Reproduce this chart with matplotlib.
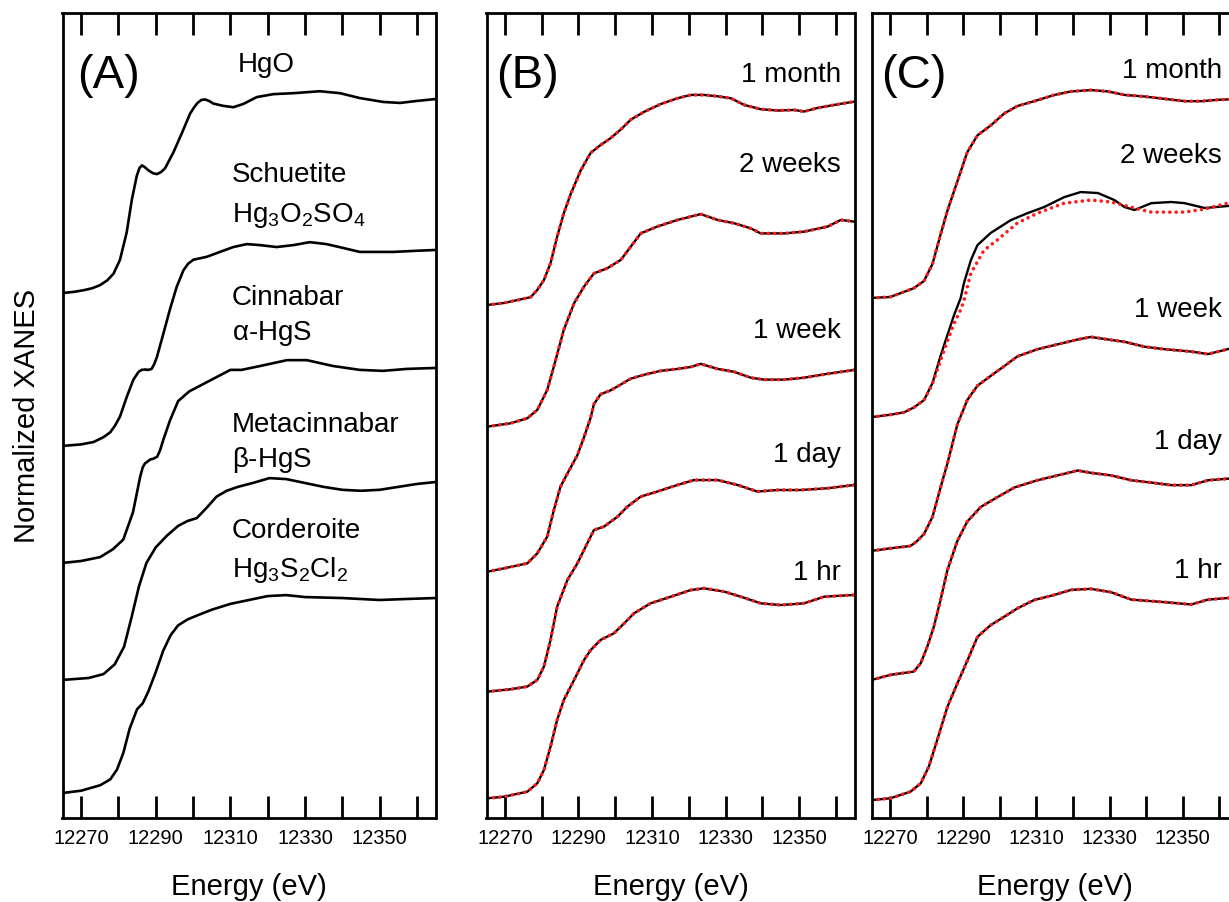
import matplotlib
matplotlib.use("Agg")
import matplotlib.pyplot as plt

plt.rcParams['font.family'] = ['Liberation Sans', 'DejaVu Sans']
plt.rcParams['mathtext.default'] = 'regular'

# ---- (A) reference spectra: energy (eV), normalized mu ----
hgo_e = [12265.0, 12268.0, 12270.8, 12273.0, 12275.0, 12277.0, 12278.7, 12280.4, 12282.2,
         12283.6, 12284.9, 12285.6, 12286.3, 12287.1, 12288.0, 12289.2, 12290.3, 12291.4,
         12292.5, 12293.6, 12294.7, 12297.0, 12299.2, 12300.2, 12301.2, 12302.2, 12303.2,
         12304.3, 12305.4, 12308.1, 12310.8, 12313.5, 12317.1, 12321.5, 12326.9, 12334.0,
         12339.4, 12344.7, 12351.0, 12355.5, 12359.9, 12365.0]
hgo_mu = [0.0, 0.006, 0.015, 0.025, 0.04, 0.065, 0.10, 0.17, 0.31, 0.48, 0.60, 0.64, 0.655,
          0.645, 0.63, 0.615, 0.61, 0.62, 0.64, 0.68, 0.72, 0.82, 0.92, 0.95, 0.975, 0.99,
          0.993, 0.985, 0.972, 0.96, 0.953, 0.97, 1.005, 1.02, 1.025, 1.035, 1.025, 1.0,
          0.98, 0.975, 0.985, 0.995]

schuetite_e = [12265.0, 12270.0, 12273.3, 12276.0, 12277.8, 12279.1, 12280.4, 12282.2,
               12284.0, 12285.4, 12286.2, 12287.1, 12288.0, 12288.9, 12289.6, 12290.3,
               12292.1, 12293.8, 12295.6, 12297.4, 12298.7, 12300.1, 12303.7, 12307.2,
               12310.8, 12314.4, 12317.9, 12322.4, 12326.9, 12331.3, 12335.8, 12340.3,
               12344.7, 12349.2, 12353.7, 12359.0, 12365.0]
schuetite_mu = [0.0, 0.008, 0.02, 0.045, 0.07, 0.105, 0.15, 0.25, 0.34, 0.38, 0.39, 0.392,
                0.39, 0.395, 0.42, 0.455, 0.58, 0.70, 0.815, 0.90, 0.935, 0.955, 0.97, 0.995,
                1.02, 1.035, 1.03, 1.02, 1.03, 1.045, 1.035, 1.015, 0.995, 0.995, 0.995, 1.0,
                1.005]

cinnabar_e = [12265.0, 12270.0, 12275.1, 12278.5, 12281.3, 12283.9, 12285.8, 12286.5,
              12287.1, 12288.5, 12289.4, 12290.4, 12291.2, 12292.0, 12293.8, 12296.0,
              12299.0, 12302.0, 12305.0, 12308.0, 12310.0, 12313.0, 12318.0, 12325.2,
              12330.5, 12337.5, 12344.7, 12350.9, 12357.3, 12365.0]
cinnabar_mu = [0.0, 0.01, 0.03, 0.07, 0.12, 0.26, 0.44, 0.49, 0.51, 0.53, 0.535, 0.545,
               0.58, 0.63, 0.73, 0.83, 0.88, 0.91, 0.94, 0.97, 0.99, 0.99, 1.01, 1.04, 1.04,
               1.01, 0.99, 0.985, 0.995, 1.0]

metacinnabar_e = [12265.0, 12272.0, 12276.0, 12279.0, 12281.5, 12283.5, 12285.5, 12287.5,
                  12290.0, 12293.0, 12296.0, 12298.5, 12301.0, 12303.5, 12306.3, 12309.0,
                  12312.0, 12316.0, 12320.5, 12325.0, 12330.0, 12335.0, 12340.0, 12345.0,
                  12350.0, 12355.0, 12360.0, 12365.0]
metacinnabar_mu = [0.0, 0.01, 0.03, 0.08, 0.17, 0.32, 0.48, 0.60, 0.68, 0.74, 0.79, 0.815,
                   0.83, 0.88, 0.94, 0.97, 0.99, 1.01, 1.035, 1.03, 1.01, 0.99, 0.975, 0.97,
                   0.975, 0.99, 1.005, 1.015]

corderoite_e = [12265.0, 12270.0, 12275.1, 12277.8, 12279.6, 12281.3, 12283.0, 12285.0,
                12286.5, 12288.0, 12290.0, 12292.0, 12294.0, 12296.0, 12298.5, 12301.0,
                12305.0, 12310.0, 12315.0, 12320.0, 12325.0, 12330.0, 12340.0, 12345.0,
                12350.0, 12357.0, 12365.0]
corderoite_mu = [0.0, 0.012, 0.04, 0.07, 0.12, 0.205, 0.33, 0.43, 0.46, 0.52, 0.62, 0.73,
                 0.81, 0.86, 0.89, 0.91, 0.94, 0.97, 0.99, 1.01, 1.015, 1.005, 1.0, 0.995,
                 0.99, 0.995, 1.0]

ref_names = ['HgO', 'Schuetite', 'Cinnabar', 'Metacinnabar', 'Corderoite']
ref_formulas = ['', r'Hg$_3$O$_2$SO$_4$', r'$\alpha$-HgS', r'$\beta$-HgS', r'Hg$_3$S$_2$Cl$_2$']
ref_offsets = [2.692, 1.908, 1.308, 0.708, 0.128]

# ---- (B) samples, black = data, red dotted = fit ----
b_month_e = [12265.2, 12269.7, 12273.4, 12277.0, 12278.8, 12280.6, 12282.4, 12284.2,
             12286.0, 12287.9, 12290.6, 12293.3, 12296.0, 12298.7, 12301.5, 12304.2,
             12307.8, 12312.3, 12316.9, 12320.5, 12324.1, 12327.8, 12331.4, 12335.0,
             12339.5, 12344.1, 12348.6, 12351.3, 12354.9, 12359.5, 12365.0]
b_month_mu = [0.0, 0.01, 0.025, 0.04, 0.077, 0.128, 0.214, 0.35, 0.47, 0.57, 0.69, 0.78,
              0.82, 0.855, 0.90, 0.95, 0.99, 1.03, 1.06, 1.077, 1.077, 1.07, 1.06, 1.026,
              1.004, 0.997, 1.0, 0.992, 1.01, 1.026, 1.043]

b_2wk_e = [12265.2, 12271.5, 12276.1, 12278.8, 12281.5, 12283.3, 12286.0, 12288.8, 12291.5,
           12294.2, 12297.8, 12301.5, 12304.2, 12306.9, 12311.4, 12316.9, 12320.5, 12323.2,
           12327.8, 12332.3, 12336.8, 12339.5, 12345.9, 12351.3, 12357.7, 12361.3, 12365.0]
b_2wk_mu = [0.0, 0.017, 0.043, 0.086, 0.188, 0.308, 0.496, 0.633, 0.718, 0.786, 0.812,
            0.855, 0.923, 0.991, 1.026, 1.06, 1.077, 1.09, 1.06, 1.043, 1.017, 0.991, 0.991,
            1.0, 1.026, 1.06, 1.051]

b_1wk_e = [12265.2, 12269.7, 12276.1, 12278.8, 12281.5, 12283.3, 12285.1, 12287.0, 12289.7,
           12291.5, 12293.3, 12294.2, 12296.0, 12298.7, 12301.5, 12304.2, 12307.8, 12312.3,
           12316.9, 12320.5, 12323.2, 12327.8, 12332.3, 12336.8, 12340.4, 12345.9, 12351.3,
           12357.7, 12365.0]
b_1wk_mu = [0.0, 0.017, 0.043, 0.094, 0.18, 0.316, 0.436, 0.504, 0.598, 0.69, 0.79, 0.86,
            0.91, 0.93, 0.96, 0.99, 1.01, 1.03, 1.04, 1.05, 1.066, 1.04, 1.025, 0.995, 0.985,
            0.985, 0.995, 1.015, 1.035]

b_1day_e = [12265.2, 12271.5, 12276.1, 12278.8, 12280.6, 12282.4, 12284.2, 12287.0, 12289.7,
            12292.4, 12294.2, 12296.9, 12300.6, 12303.3, 12306.9, 12311.4, 12316.9, 12321.4,
            12327.8, 12333.2, 12338.6, 12344.0, 12350.4, 12357.7, 12365.0]
b_1day_mu = [0.0, 0.012, 0.026, 0.06, 0.128, 0.265, 0.436, 0.573, 0.658, 0.761, 0.829, 0.846,
             0.897, 0.949, 1.0, 1.026, 1.06, 1.085, 1.085, 1.06, 1.026, 1.034, 1.034, 1.043, 1.06]

b_1hr_e = [12265.2, 12269.7, 12276.1, 12278.8, 12280.6, 12282.4, 12284.2, 12286.0, 12288.8,
           12291.5, 12293.3, 12296.0, 12299.6, 12302.4, 12305.1, 12309.6, 12315.1, 12320.5,
           12324.1, 12329.6, 12334.1, 12339.5, 12345.0, 12351.3, 12356.8, 12365.0]
b_1hr_mu = [0.0, 0.008, 0.034, 0.077, 0.145, 0.265, 0.402, 0.504, 0.607, 0.709, 0.76, 0.812,
            0.846, 0.897, 0.949, 1.0, 1.034, 1.068, 1.077, 1.06, 1.034, 1.0, 0.991, 1.0,
            1.034, 1.043]

b_offsets = [2.631, 2.007, 1.263, 0.648, 0.101]

# ---- (C) samples ----
c_month_e = [12265.0, 12270.1, 12276.5, 12279.3, 12281.6, 12283.8, 12285.7, 12288.4, 12291.1,
             12293.9, 12297.5, 12301.2, 12304.8, 12309.4, 12314.9, 12319.5, 12324.9, 12329.5,
             12334.1, 12339.5, 12345.0, 12350.5, 12355.1, 12359.6, 12365.0]
c_month_mu = [0.0, 0.005, 0.05, 0.087, 0.174, 0.324, 0.448, 0.597, 0.747, 0.834, 0.884,
              0.946, 0.984, 1.009, 1.041, 1.059, 1.066, 1.059, 1.041, 1.033, 1.021, 1.009,
              1.009, 1.016, 1.02]

c_2wk_e = [12265.0, 12270.1, 12273.8, 12276.5, 12279.3, 12281.6, 12283.8, 12285.7, 12287.5,
           12289.3, 12290.2, 12292.1, 12293.9, 12297.5, 12303.0, 12307.6, 12312.1, 12317.6,
           12322.1, 12326.8, 12331.3, 12334.1, 12336.8, 12341.4, 12346.8, 12350.5, 12356.0,
           12365.0]
c_2wk_mu = [0.0, 0.012, 0.024, 0.049, 0.087, 0.174, 0.313, 0.421, 0.523, 0.61, 0.687, 0.805,
            0.882, 0.944, 1.01, 1.046, 1.077, 1.128, 1.154, 1.149, 1.113, 1.077, 1.062, 1.097,
            1.103, 1.097, 1.072, 1.087]
c_2wk_fit_e = [12265.0, 12270.1, 12273.8, 12276.5, 12279.3, 12281.6, 12283.8, 12285.7,
               12287.5, 12289.3, 12290.2, 12292.1, 12295.7, 12299.3, 12304.8, 12310.3,
               12317.6, 12324.9, 12330.4, 12336.8, 12341.4, 12350.5, 12356.0, 12365.0]
c_2wk_fit_mu = [0.0, 0.012, 0.024, 0.049, 0.087, 0.17, 0.29, 0.39, 0.48, 0.55, 0.598, 0.738,
                0.856, 0.908, 0.995, 1.046, 1.097, 1.113, 1.103, 1.072, 1.051, 1.051, 1.067,
                1.11]

c_1wk_e = [12265.0, 12270.1, 12275.6, 12277.4, 12279.3, 12281.6, 12283.8, 12285.7, 12288.4,
           12291.1, 12293.9, 12297.5, 12301.2, 12304.8, 12310.3, 12315.8, 12321.3, 12324.9,
           12329.5, 12334.1, 12339.5, 12345.0, 12352.3, 12356.9, 12365.0]
c_1wk_mu = [0.0, 0.013, 0.025, 0.05, 0.087, 0.174, 0.324, 0.449, 0.648, 0.773, 0.847, 0.897,
            0.947, 0.997, 1.034, 1.059, 1.084, 1.097, 1.084, 1.072, 1.047, 1.034, 1.022, 1.009,
            1.047]

c_1day_e = [12265.0, 12270.1, 12276.5, 12278.4, 12280.2, 12282.0, 12283.8, 12285.7, 12288.4,
            12291.1, 12294.8, 12299.4, 12304.0, 12310.3, 12315.8, 12321.3, 12324.9, 12330.4,
            12335.9, 12341.4, 12346.8, 12352.3, 12356.9, 12365.0]
c_1day_mu = [0.0, 0.026, 0.043, 0.086, 0.171, 0.274, 0.41, 0.564, 0.713, 0.812, 0.887, 0.938,
             0.987, 1.024, 1.049, 1.074, 1.062, 1.049, 1.024, 1.012, 0.999, 0.999, 1.024, 1.036]

c_1hr_e = [12265.0, 12270.1, 12275.6, 12278.4, 12280.6, 12282.9, 12285.7, 12288.4, 12291.2,
           12293.9, 12297.5, 12301.2, 12304.8, 12309.4, 12314.5, 12319.5, 12324.9, 12330.4,
           12335.9, 12345.0, 12352.3, 12356.9, 12365.0]
c_1hr_mu = [0.0, 0.009, 0.043, 0.086, 0.171, 0.308, 0.479, 0.598, 0.718, 0.837, 0.897, 0.94,
            0.983, 1.026, 1.05, 1.078, 1.083, 1.066, 1.028, 1.015, 1.003, 1.028, 1.04]

c_offsets = [2.667, 2.056, 1.370, 0.708, 0.092]

time_labels = ['1 month', '2 weeks', '1 week', '1 day', '1 hr']
xticks = list(range(12270, 12361, 10))
xticklabels = [str(t) if (t - 12270) % 20 == 0 else '' for t in xticks]

W, H = 1229, 902
fig = plt.figure(figsize=(W / 100, H / 100), dpi=100)


def make_axes(left_px, width_px):
    ax = fig.add_axes([left_px / W, 1 - 818 / H, width_px / W, 805 / H])
    ax.set_xlim(12265, 12365)
    ax.set_ylim(0, 805 / 195)
    ax.set_xticks(xticks)
    ax.set_xticklabels(xticklabels)
    ax.set_yticks([])
    ax.tick_params(axis='x', direction='in', top=True, bottom=True, length=15.5, width=2,
                   labelsize=14.5, pad=8)
    for s in ax.spines.values():
        s.set_linewidth(2)
    return ax


axA = make_axes(62.5, 373)
axB = make_axes(486.5, 368)
axC = make_axes(871.7, 366)

# panel A
ref_e = [hgo_e, schuetite_e, cinnabar_e, metacinnabar_e, corderoite_e]
ref_mu = [hgo_mu, schuetite_mu, cinnabar_mu, metacinnabar_mu, corderoite_mu]
for e, mu, off in zip(ref_e, ref_mu, ref_offsets):
    axA.plot(e, [m + off for m in mu], color='black', lw=1.9,
             solid_joinstyle='round', solid_capstyle='round')

name_y = [0.927, 0.790, 0.637, 0.480, 0.348]
form_y = [None, 0.740, 0.594, 0.436, 0.299]
for i, (nm, fm) in enumerate(zip(ref_names, ref_formulas)):
    x0 = 0.47 if i == 0 else 0.454
    axA.text(x0, name_y[i], nm, transform=axA.transAxes, fontsize=20, va='baseline')
    if fm:
        axA.text(0.454, form_y[i], fm, transform=axA.transAxes, fontsize=20, va='baseline')

dot_style = dict(color='#ff1a1a', lw=2.6, linestyle=(0, (0.01, 1.75)), dash_capstyle='round')

# panel B
b_e = [b_month_e, b_2wk_e, b_1wk_e, b_1day_e, b_1hr_e]
b_mu = [b_month_mu, b_2wk_mu, b_1wk_mu, b_1day_mu, b_1hr_mu]
for e, mu, off in zip(b_e, b_mu, b_offsets):
    y = [m + off for m in mu]
    axB.plot(e, y, color='black', lw=1.7, solid_joinstyle='round')
    axB.plot(e, y, **dot_style)

b_lab_y = [0.914, 0.802, 0.596, 0.442, 0.296]
for lab, yy in zip(time_labels, b_lab_y):
    axB.text(0.963, yy, lab, transform=axB.transAxes, fontsize=20, ha='right', va='baseline')

# panel C
c_e = [c_month_e, c_2wk_e, c_1wk_e, c_1day_e, c_1hr_e]
c_mu = [c_month_mu, c_2wk_mu, c_1wk_mu, c_1day_mu, c_1hr_mu]
c_fit_e = [c_month_e, c_2wk_fit_e, c_1wk_e, c_1day_e, c_1hr_e]
c_fit_mu = [c_month_mu, c_2wk_fit_mu, c_1wk_mu, c_1day_mu, c_1hr_mu]
for e, mu, fe, fmu, off in zip(c_e, c_mu, c_fit_e, c_fit_mu, c_offsets):
    axC.plot(e, [m + off for m in mu], color='black', lw=1.7, solid_joinstyle='round')
    axC.plot(fe, [m + off for m in fmu], **dot_style)

c_lab_y = [0.919, 0.814, 0.622, 0.458, 0.298]
for lab, yy in zip(time_labels, c_lab_y):
    axC.text(0.957, yy, lab, transform=axC.transAxes, fontsize=20, ha='right', va='baseline')

# panel letters
for ax, letter, x0 in [(axA, '(A)', 0.04), (axB, '(B)', 0.025), (axC, '(C)', 0.025)]:
    ax.text(x0, 0.907, letter, transform=ax.transAxes, fontsize=34, va='baseline')

# axis titles
for left, width in [(62.5, 373), (486.5, 368), (871.7, 366)]:
    fig.text((left + width / 2) / W, 1 - 895 / H, 'Energy (eV)', fontsize=21,
             ha='center', va='baseline')
fig.text(27 / W, 1 - 416 / H, 'Normalized XANES', fontsize=21, rotation=90,
         ha='center', va='center')

fig.savefig('out.png', dpi=100)
